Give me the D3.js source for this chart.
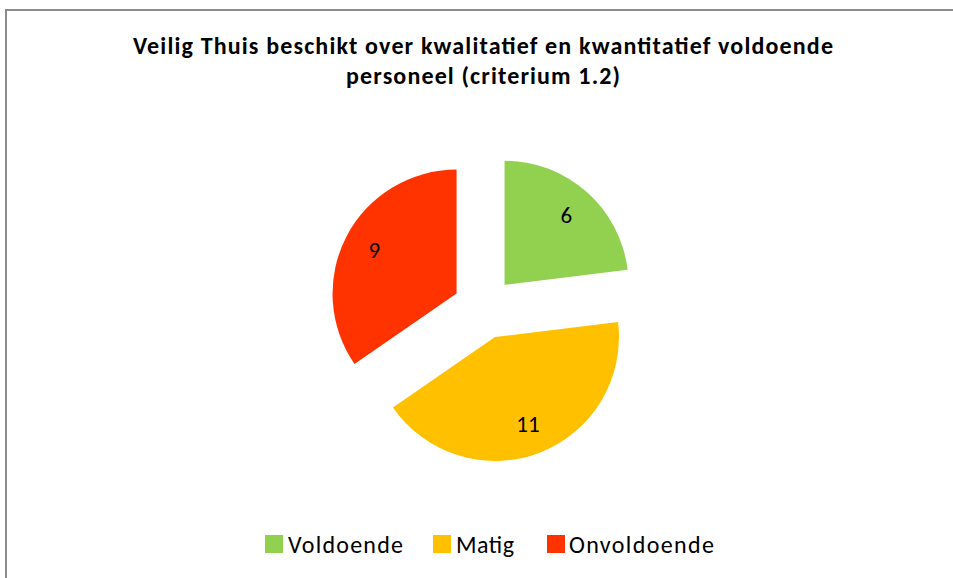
<!DOCTYPE html>
<html>
<head>
<meta charset="utf-8">
<script src="https://cdn.jsdelivr.net/npm/d3@7"></script>
<style>
  body { margin: 0; background: #fff; }
  svg { display: block; }
</style>
</head>
<body>
<svg id="chart" width="953" height="578"></svg>
<script>
// data
let categories = ["Voldoende", "Matig", "Onvoldoende"];
let values = [6, 11, 9];
let colors = ["#92d050", "#ffc000", "#ff3300"];
let titleLines = ["Veilig Thuis beschikt over kwalitatief en kwantitatief voldoende", "personeel (criterium 1.2)"];

let font = "Carlito, Lato, 'Open Sans', sans-serif";
let svg = d3.select("#chart");

// chart frame (runs off right and bottom)
svg.append("rect")
  .attr("x", 6).attr("y", 10)
  .attr("width", 1000).attr("height", 700)
  .attr("fill", "#fff")
  .attr("stroke", "#8c8c8c")
  .attr("stroke-width", 2);

// title
let titleWidths = [700, 274];
svg.append("g").selectAll("text").data(titleLines).join("text")
  .attr("x", 483)
  .attr("y", (d, i) => 54 + i * 30)
  .attr("text-anchor", "middle")
  .attr("font-family", font)
  .attr("font-weight", "bold")
  .attr("font-size", 24)
  .attr("textLength", (d, i) => titleWidths[i])
  .attr("lengthAdjust", "spacing")
  .attr("fill", "#000")
  .text(d => d);

// pie
let cx = 484, cy = 308, radius = 124, explode = 31;
let pie = d3.pie().sort(null).value(d => d)(values);
let arc = d3.arc().innerRadius(0).outerRadius(radius);

let slices = svg.append("g").attr("transform", `translate(${cx},${cy})`)
  .selectAll("g").data(pie).join("g")
  .attr("transform", d => {
    let a = (d.startAngle + d.endAngle) / 2;
    return `translate(${explode * Math.sin(a)},${-explode * Math.cos(a)})`;
  });

slices.append("path")
  .attr("d", arc)
  .attr("fill", (d, i) => colors[i]);

slices.append("text")
  .attr("x", d => 0.75 * radius * Math.sin((d.startAngle + d.endAngle) / 2))
  .attr("y", d => -0.75 * radius * Math.cos((d.startAngle + d.endAngle) / 2))
  .attr("dy", "0.35em")
  .attr("text-anchor", "middle")
  .attr("font-family", font)
  .attr("font-size", 23)
  .attr("fill", "#000")
  .text(d => d.value);

// legend
let legendX = [265, 433, 547];
let legendW = [115, 58, 145];
let legend = svg.append("g").selectAll("g").data(categories).join("g")
  .attr("transform", (d, i) => `translate(${legendX[i]},535)`);
legend.append("rect")
  .attr("width", 18).attr("height", 18)
  .attr("fill", (d, i) => colors[i]);
legend.append("text")
  .attr("x", (d, i) => i == 2 ? 22 : 23)
  .attr("y", 18)
  .attr("font-family", font)
  .attr("font-size", 24)
  .attr("textLength", (d, i) => legendW[i])
  .attr("lengthAdjust", "spacing")
  .attr("fill", "#000")
  .text(d => d);
</script>
</body>
</html>
